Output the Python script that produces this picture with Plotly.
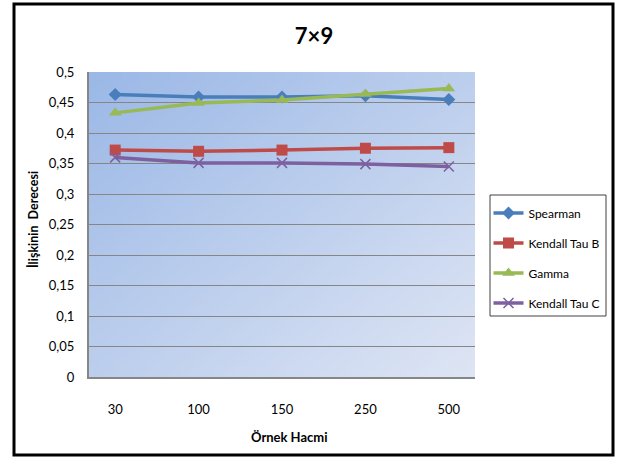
import base64
import struct
import zlib

import plotly.graph_objects as go

# Sample sizes (categories) and correlation measures for the 7x9 table
sample_sizes = ["30", "100", "150", "250", "500"]
spearman = [0.463, 0.459, 0.459, 0.461, 0.455]
kendall_tau_b = [0.372, 0.370, 0.372, 0.375, 0.376]
gamma = [0.433, 0.449, 0.454, 0.464, 0.473]
kendall_tau_c = [0.360, 0.351, 0.351, 0.349, 0.345]

y_tick_values = [0, 0.05, 0.1, 0.15, 0.2, 0.25, 0.3, 0.35, 0.4, 0.45, 0.5]
y_tick_labels = ["0", "0,05", "0,1", "0,15", "0,2", "0,25", "0,3", "0,35", "0,4", "0,45", "0,5"]

FONT = "Lato"


def gradient_png(w, h, c0, c1):
    """Diagonal linear gradient from c0 (top-left) to c1 (bottom-right) as a PNG data URI."""
    raw = bytearray()
    for j in range(h):
        raw.append(0)
        for i in range(w):
            t = (i / (w - 1) + j / (h - 1)) / 2
            for k in range(3):
                raw.append(int(round(c0[k] + (c1[k] - c0[k]) * t)))

    def chunk(tag, data):
        return (struct.pack(">I", len(data)) + tag + data
                + struct.pack(">I", zlib.crc32(tag + data) & 0xFFFFFFFF))

    png = b"\x89PNG\r\n\x1a\n"
    png += chunk(b"IHDR", struct.pack(">IIBBBBB", w, h, 8, 2, 0, 0, 0))
    png += chunk(b"IDAT", zlib.compress(bytes(raw), 9))
    png += chunk(b"IEND", b"")
    return "data:image/png;base64," + base64.b64encode(png).decode()


fig = go.Figure()

series = [
    ("Spearman", spearman, "#4A7EBB", dict(symbol="diamond", size=10)),
    ("Kendall Tau B", kendall_tau_b, "#BE4B48", dict(symbol="square", size=11)),
    ("Gamma", gamma, "#98B954", dict(symbol="triangle-up", size=11)),
    ("Kendall Tau C", kendall_tau_c, "#7D60A0",
     dict(symbol="x-thin", size=10, line=dict(width=1.5, color="#7D60A0"))),
]

for name, values, color, marker in series:
    fig.add_trace(go.Scatter(
        x=sample_sizes, y=values, name=name, legendgroup=name,
        mode="lines+markers",
        line=dict(color=color, width=3.5),
        marker=dict(color=color, **marker),
    ))

GRID = "#868686"

fig.update_layout(
    width=622, height=460,
    margin=dict(l=89, r=147, t=72, b=83),
    paper_bgcolor="white",
    plot_bgcolor="rgba(0,0,0,0)",
    font=dict(family=FONT, size=12, color="black"),
    title=dict(text="<b>7×9</b>", font=dict(family=FONT, size=22, color="black"),
               xref="container", yref="container", x=314 / 622, xanchor="center",
               y=1 - 36 / 460, yanchor="middle"),
    showlegend=True,
    legend=dict(
        x=1.035, y=0.585, xanchor="left", yanchor="top",
        bgcolor="rgba(0,0,0,0)", borderwidth=0,
        font=dict(family=FONT, size=12, color="black"),
        traceorder="grouped", tracegroupgap=11, itemwidth=30,
    ),
    xaxis=dict(
        type="category", showgrid=False, zeroline=False,
        showline=True, linecolor=GRID, linewidth=2,
        ticks="", ticklabelstandoff=19,
        tickfont=dict(family=FONT, size=13, color="black"),
    ),
    yaxis=dict(
        range=[0, 0.5], tickvals=y_tick_values, ticktext=y_tick_labels,
        showgrid=True, gridcolor=GRID, gridwidth=1, zeroline=False,
        showline=True, linecolor=GRID, linewidth=2,
        ticks="", ticklabelstandoff=10,
        tickfont=dict(family=FONT, size=13, color="black"),
    ),
    images=[dict(
        source=gradient_png(64, 64, (155, 184, 230), (222, 229, 244)),
        xref="paper", yref="paper", x=0, y=1, sizex=1, sizey=1,
        xanchor="left", yanchor="top", sizing="stretch", layer="below",
    )],
    annotations=[
        dict(text="<b>Örnek Hacmi</b>", xref="paper", yref="paper",
             x=(289 - 89) / 386, y=(377 - 437) / 305, showarrow=False,
             xanchor="center", yanchor="middle",
             font=dict(family=FONT, size=13, color="black")),
        dict(text="<b>İlişkinin  Derecesi</b>", xref="paper", yref="paper",
             x=(33 - 89) / 386, y=(377 - 220) / 305, showarrow=False,
             textangle=-90, xanchor="center", yanchor="middle",
             font=dict(family=FONT, size=12.5, color="black")),
    ],
    shapes=[
        # legend frame
        dict(type="rect", xref="paper", yref="paper",
             x0=(490 - 89) / 386, x1=(606 - 89) / 386,
             y0=(377 - 316) / 305, y1=(377 - 195) / 305,
             line=dict(color="#404040", width=1), layer="above"),
        # outer chart frame
        dict(type="rect", xref="paper", yref="paper",
             x0=(14 - 89) / 386, x1=(613 - 89) / 386,
             y0=(377 - 455) / 305, y1=(377 - 4) / 305,
             line=dict(color="black", width=3), layer="above"),
    ],
)

fig.write_html("out.html")
